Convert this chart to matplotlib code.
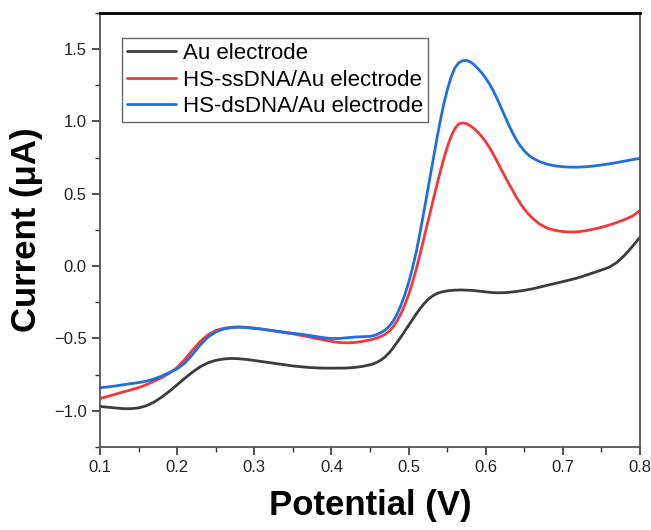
import numpy as np
import matplotlib
matplotlib.use('Agg')
import matplotlib.pyplot as plt
from matplotlib.ticker import MultipleLocator

plt.rcParams['font.family'] = ['Liberation Sans', 'DejaVu Sans']

# potential (V): finer steps around the oxidation peaks
potential = np.round(np.concatenate([np.arange(0.10, 0.445, 0.01),
                                     np.arange(0.45, 0.6625, 0.005),
                                     np.arange(0.67, 0.805, 0.01)]), 3)

# current (uA)
au_electrode = [
    # 0.10 - 0.44
    -0.970, -0.975, -0.980, -0.985, -0.985, -0.980, -0.965, -0.940, -0.905, -0.865,
    -0.820, -0.775, -0.732, -0.695, -0.668, -0.651, -0.642, -0.638, -0.640, -0.645,
    -0.652, -0.660, -0.667, -0.675, -0.682, -0.690, -0.695, -0.700, -0.703, -0.705,
    -0.705, -0.705, -0.704, -0.700, -0.693,
    # 0.450 - 0.660
    -0.682, -0.674, -0.662, -0.646, -0.625, -0.598, -0.565, -0.528, -0.490, -0.450,
    -0.410, -0.370, -0.330, -0.293, -0.260, -0.232, -0.210, -0.194, -0.183, -0.176,
    -0.171, -0.168, -0.166, -0.165, -0.165, -0.166, -0.167, -0.169, -0.172, -0.175,
    -0.178, -0.181, -0.183, -0.184, -0.184, -0.183, -0.181, -0.178, -0.175, -0.171,
    -0.167, -0.162, -0.158,
    # 0.67 - 0.80
    -0.145, -0.132, -0.120, -0.107, -0.094, -0.080, -0.063, -0.045, -0.027, -0.008,
    0.025, 0.075, 0.135, 0.200]
ssdna = [
    -0.915, -0.900, -0.885, -0.870, -0.855, -0.840, -0.820, -0.795, -0.770, -0.740,
    -0.700, -0.645, -0.580, -0.520, -0.475, -0.445, -0.430, -0.422, -0.420, -0.423,
    -0.428, -0.435, -0.443, -0.452, -0.460, -0.468, -0.478, -0.488, -0.500, -0.510,
    -0.520, -0.528, -0.530, -0.528, -0.520,
    -0.510, -0.503, -0.495, -0.484, -0.470, -0.450, -0.420, -0.380, -0.330, -0.270,
    -0.200, -0.115, -0.020, 0.085, 0.195, 0.305, 0.415, 0.525, 0.630, 0.730,
    0.820, 0.895, 0.950, 0.984, 0.990, 0.985, 0.970, 0.950, 0.925, 0.895,
    0.860, 0.818, 0.772, 0.722, 0.670, 0.620, 0.570, 0.522, 0.475, 0.432,
    0.395, 0.362, 0.335,
    0.290, 0.262, 0.247, 0.239, 0.236, 0.238, 0.245, 0.256, 0.268, 0.284,
    0.302, 0.322, 0.345, 0.385]
dsdna = [
    -0.840, -0.835, -0.828, -0.820, -0.812, -0.805, -0.795, -0.780, -0.760, -0.735,
    -0.710, -0.670, -0.610, -0.545, -0.490, -0.455, -0.435, -0.425, -0.422, -0.425,
    -0.430, -0.436, -0.443, -0.450, -0.457, -0.464, -0.470, -0.478, -0.486, -0.495,
    -0.500, -0.500, -0.495, -0.490, -0.488,
    -0.485, -0.480, -0.470, -0.457, -0.440, -0.415, -0.380, -0.333, -0.272, -0.200,
    -0.115, -0.015, 0.100, 0.235, 0.380, 0.530, 0.680, 0.830, 0.975, 1.105,
    1.215, 1.305, 1.370, 1.405, 1.420, 1.422, 1.412, 1.392, 1.365, 1.335,
    1.300, 1.258, 1.210, 1.155, 1.095, 1.035, 0.975, 0.920, 0.870, 0.830,
    0.797, 0.770, 0.750,
    0.722, 0.704, 0.693, 0.687, 0.684, 0.684, 0.687, 0.692, 0.699, 0.707,
    0.716, 0.726, 0.736, 0.745]

labels = ['Au electrode', 'HS-ssDNA/Au electrode', 'HS-dsDNA/Au electrode']
colors = ['#3c3c3c', '#f2383b', '#1e6fe0']

fig = plt.figure(figsize=(6.51, 5.30), dpi=100)
ax = fig.add_axes([0.1536, 0.1566, 0.8295, 0.819])

for series, lab, col in zip([au_electrode, ssdna, dsdna], labels, colors):
    ax.plot(potential, series, color=col, lw=2.0, label=lab,
            solid_joinstyle='round', solid_capstyle='round')

ax.set_xlim(0.1, 0.8)
ax.set_ylim(-1.25, 1.75)
ax.xaxis.set_major_locator(MultipleLocator(0.1))
ax.xaxis.set_minor_locator(MultipleLocator(0.05))
ax.yaxis.set_minor_locator(MultipleLocator(0.25))
ax.set_yticks([-1.0, -0.5, 0.0, 0.5, 1.0, 1.5])
ax.tick_params(which='major', direction='out', length=6, width=1.2,
               labelsize=12, colors='#333333', labelcolor='#222222')
ax.tick_params(which='minor', direction='out', length=3.5, width=1.0, colors='#333333')

for side in ['left', 'right', 'bottom']:
    ax.spines[side].set_color('#555555')
    ax.spines[side].set_linewidth(1.3)
ax.spines['top'].set_color('black')
ax.spines['top'].set_linewidth(2.0)

ax.set_xlabel('Potential (V)', fontsize=25, fontweight='bold', labelpad=10)
ax.set_ylabel('Current (\u03bcA)', fontsize=25, fontweight='bold', labelpad=8)

leg = ax.legend(loc='upper left', bbox_to_anchor=(0.041, 0.942), borderaxespad=0,
                fontsize=16, frameon=True, fancybox=False, framealpha=1,
                edgecolor='#666666', handlelength=2.2, handletextpad=0.3,
                borderpad=0.22, labelspacing=0.25)
leg.get_frame().set_linewidth(1.0)

fig.savefig('out.png', dpi=100)
